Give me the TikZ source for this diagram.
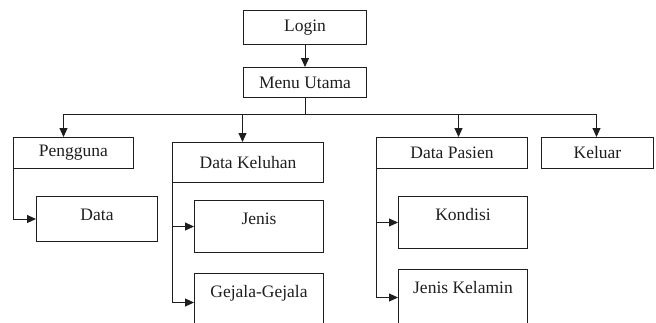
\documentclass[tikz,border=0pt]{standalone}
\usepackage{fontspec}
\setmainfont{Liberation Serif}
\usepackage{tikz}
\usetikzlibrary{arrows.meta,positioning}
\definecolor{ink}{HTML}{1E1E1E}
\tikzset{
  box/.style={draw=ink, line width=1pt, rectangle, inner sep=0pt, text=ink,
    font=\fontsize{17.5}{20}\selectfont},
  top/.style={box, anchor=north west},
  sub/.style={top, text height=24pt, text depth=#1},
  line/.style={draw=ink, line width=1pt},
  arr/.style={line, -{Triangle[length=9pt,width=8pt]}},
}

\begin{document}
\begin{tikzpicture}[x=1pt,y=-1pt]
\useasboundingbox (0,0) rectangle (656,322);
% top of the menu
\node[top, minimum width=123, minimum height=34] (login) at (243,10) {Login};
\node[top, minimum width=123, minimum height=30] (menu) at (243,67) {Menu Utama};
\draw[arr] (login) -- (menu);
% main entries
\node[top, minimum width=120, minimum height=31] (pengguna) at (13,137) {Pengguna};
\node[top, minimum width=151, minimum height=40] (keluhan) at (172,142) {Data Keluhan};
\node[top, minimum width=151, minimum height=31] (pasien) at (376,137) {Data Pasien};
\node[top, minimum width=112, minimum height=31] (keluar) at (541,137) {Keluar};
% sub entries
\node[sub=21pt, minimum width=121] (data) at (36,196) {Data};
\node[sub=28pt, minimum width=129] (jenis) at (194,200) {Jenis};
\node[sub=34pt, minimum width=129] (gejala) at (194,273) {Gejala-Gejala\hspace{8pt}};
\node[sub=28pt, minimum width=129] (kondisi) at (398,196) {Kondisi};
\node[sub=32pt, minimum width=129] (kelamin) at (398,269) {Jenis Kelamin};
% bus from the main menu
\draw[line] (menu.south) -- ++(0,16) coordinate (bus);
\coordinate (p1) at ([xshift=-10]pengguna.north);
\coordinate (p2) at ([xshift=-5.5]keluhan.north);
\coordinate (p3) at ([xshift=6.5]pasien.north);
\coordinate (p4) at ([xshift=-1]keluar.north);
\draw[line] (p1 |- bus) -- (p4 |- bus);
\foreach \p in {p1,p2,p3,p4}
  \draw[arr] (\p |- bus) -- (\p);
% branches
\draw[arr] (pengguna.south west) |- (data.west);
\draw[arr] (keluhan.south west) |- (jenis.west);
\draw[arr] (keluhan.south west) |- (gejala.west);
\draw[arr] (pasien.south west) |- (kondisi.west);
\draw[arr] (pasien.south west) |- (kelamin.west);
\end{tikzpicture}
\end{document}
